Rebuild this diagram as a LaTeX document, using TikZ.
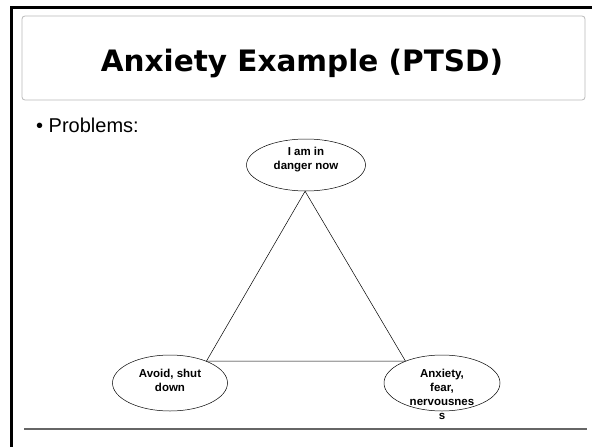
\documentclass[tikz,border=0pt]{standalone}
\usepackage{fontspec}
\setmainfont{Liberation Sans}
\newfontfamily\titlefont{DejaVu Sans}
\usetikzlibrary{shapes.geometric}

\begin{document}
\begin{tikzpicture}[x=1pt,y=-1pt,
		bubble/.style={draw, ellipse, line width=0.5pt, inner sep=0pt},
		bubbletext/.style={align=center, font=\bfseries\fontsize{11.5}{14}\selectfont, inner sep=0pt},
		edge/.style={draw, line width=0.5pt}]
	\useasboundingbox (0,0) rectangle (592,447);

	% slide frame and title box
	\draw [line width=3pt] (11.3,447) -- (11.3,7.5) -- (592,7.5);
	\draw [gray!55, line width=0.8pt, rounded corners=3pt] (22,16) rectangle (585,100);
	\node [anchor=base, inner sep=0pt] (title) at (302,71) {\titlefont\bfseries\fontsize{29.5}{34}\selectfont Anxiety Example (PTSD)};
	\draw [gray!80!black, line width=1.5pt] (24,429) -- (587,429);

	% bullet
	\node [anchor=base west, inner sep=0pt] (problems) at (36,132) {\fontsize{20}{24}\selectfont \textbullet\ Problems:};

	% the three bubbles
	\node [bubble, minimum width=119pt, minimum height=52pt] (danger) at (306,165) {};
	\node [bubble, minimum width=115pt, minimum height=56pt] (avoid) at (170,383) {};
	\node [bubble, minimum width=116pt, minimum height=56pt] (anxiety) at (442,383) {};

	\node [bubbletext] (dangertxt) at (306,160) {I am in\\danger now};
	\node [bubbletext] (avoidtxt) at (170,380) {Avoid, shut\\down};
	\node [bubbletext] (anxietytxt) at (442,394) {Anxiety,\\fear,\\nervousnes\\s};

	% triangle
	\draw [edge] (danger.-92) -- (avoid.31);
	\draw [edge] (avoid.31) -- (anxiety.149);
	\draw [edge] (anxiety.149) -- (danger.-92);
\end{tikzpicture}
\end{document}
